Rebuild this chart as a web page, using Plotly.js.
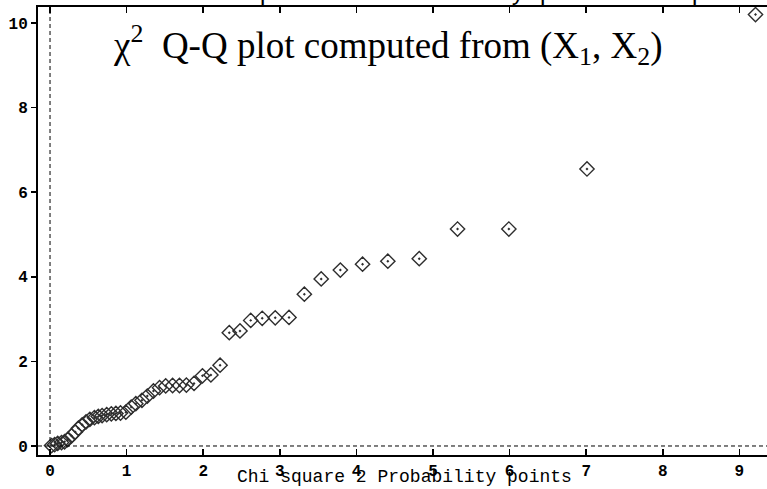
<!DOCTYPE html>
<html>
<head>
<meta charset="utf-8">
<script src="https://cdn.plot.ly/plotly-3.0.1.min.js"></script>
<style>html,body{margin:0;padding:0;background:#fff;}#chart{width:767px;height:489px;}</style>
</head>
<body>
<div id="chart"></div>
<script>
// Chi-square(2) probability points (x) vs ordered squared distances (y)
var chiSqPoints = [0.02, 0.06, 0.10, 0.15, 0.19, 0.23, 0.28, 0.33, 0.37, 0.42,
                   0.47, 0.52, 0.58, 0.63, 0.68, 0.74, 0.80, 0.86, 0.92, 0.99,
                   1.06, 1.12, 1.20, 1.27, 1.35, 1.43, 1.51, 1.60, 1.69, 1.78,
                   1.88, 1.99, 2.10, 2.22, 2.34, 2.48, 2.62, 2.77, 2.94, 3.12,
                   3.32, 3.54, 3.79, 4.08, 4.41, 4.82, 5.32, 5.99, 7.01, 9.21];
var orderedDistances = [0.01, 0.03, 0.06, 0.08, 0.10, 0.15, 0.24, 0.33, 0.42, 0.50,
                        0.57, 0.63, 0.67, 0.70, 0.72, 0.74, 0.76, 0.77, 0.78, 0.80,
                        0.92, 1.00, 1.08, 1.18, 1.30, 1.38, 1.42, 1.43, 1.43, 1.44,
                        1.48, 1.66, 1.68, 1.91, 2.68, 2.72, 2.97, 3.02, 3.03, 3.04,
                        3.59, 3.95, 4.16, 4.30, 4.37, 4.43, 5.13, 5.13, 6.55, 10.2];
var xTickVals = [0, 1, 2, 3, 4, 5, 6, 7, 8, 9];
var yTickVals = [0, 2, 4, 6, 8, 10];
var xRange = [-0.157, 9.36];
var yRange = [-0.213, 10.38];
var plotTitle = "\u03c7<sup>2</sup>  Q-Q plot computed from (X<sub>1</sub>, X<sub>2</sub>)";
var xTitle = "Chi square 2 Probability points";
var topText = "xlab: Chi square 2 Probability points /# q = 2";

var trace = {
  x: chiSqPoints,
  y: orderedDistances,
  type: 'scatter',
  mode: 'markers',
  marker: {symbol: 'diamond-open-dot', size: 11, color: '#2e2e2e', line: {width: 1.4, color: '#2e2e2e'}},
  showlegend: false,
  hoverinfo: 'x+y'
};

var monoFont = {family: 'Liberation Mono, Courier New, monospace', size: 16, color: '#000', weight: 'bold'};

var layout = {
  width: 767, height: 489,
  margin: {l: 38, r: 0, t: 7, b: 34, pad: 0},
  paper_bgcolor: '#fff', plot_bgcolor: '#fff',
  showlegend: false,
  xaxis: {
    range: xRange, tickvals: xTickVals, ticktext: xTickVals.map(String),
    ticks: 'inside', ticklen: 6, tickwidth: 1.5, tickcolor: '#000',
    showline: true, linecolor: '#000', linewidth: 2, mirror: 'ticks',
    showgrid: false, zeroline: false, tickfont: monoFont, automargin: false
  },
  yaxis: {
    range: yRange, tickvals: yTickVals, ticktext: yTickVals.map(String),
    ticks: 'outside', ticklen: 5, tickwidth: 1.5, tickcolor: '#000',
    showline: true, linecolor: '#000', linewidth: 2, mirror: false,
    showgrid: false, zeroline: false, tickfont: monoFont, automargin: false
  },
  yaxis2: {
    range: yRange, tickvals: yTickVals, overlaying: 'y', side: 'right',
    ticks: 'inside', ticklen: 4, tickwidth: 1.5, tickcolor: '#000',
    showticklabels: false, showline: false, showgrid: false, zeroline: false
  },
  shapes: [
    {type: 'line', xref: 'x', yref: 'paper', x0: 0, x1: 0, y0: 0, y1: 1,
     line: {color: '#000', width: 1, dash: '4px,3px'}},
    {type: 'line', xref: 'paper', yref: 'y', x0: 0, x1: 1, y0: 0, y1: 0,
     line: {color: '#000', width: 1, dash: '4px,3px'}}
  ],
  annotations: [
    {text: plotTitle, xref: 'paper', yref: 'paper', x: 0.48, y: 0.915,
     xanchor: 'center', yanchor: 'middle', showarrow: false,
     font: {family: 'Liberation Serif, Times New Roman, serif', size: 37, color: '#000'}},
    {text: xTitle, xref: 'paper', yref: 'paper', x: 0.503, y: -0.048,
     xanchor: 'center', yanchor: 'middle', showarrow: false,
     font: {family: 'Liberation Mono, Courier New, monospace', size: 18, color: '#000'}},
    {text: topText, xref: 'paper', yref: 'paper', x: 0.53, y: 1.03,
     xanchor: 'center', yanchor: 'middle', showarrow: false,
     font: {family: 'Liberation Mono, Courier New, monospace', size: 24, color: '#000'}}
  ]
};

Plotly.newPlot('chart', [trace], layout, {displayModeBar: false, staticPlot: true});
</script>
</body>
</html>
